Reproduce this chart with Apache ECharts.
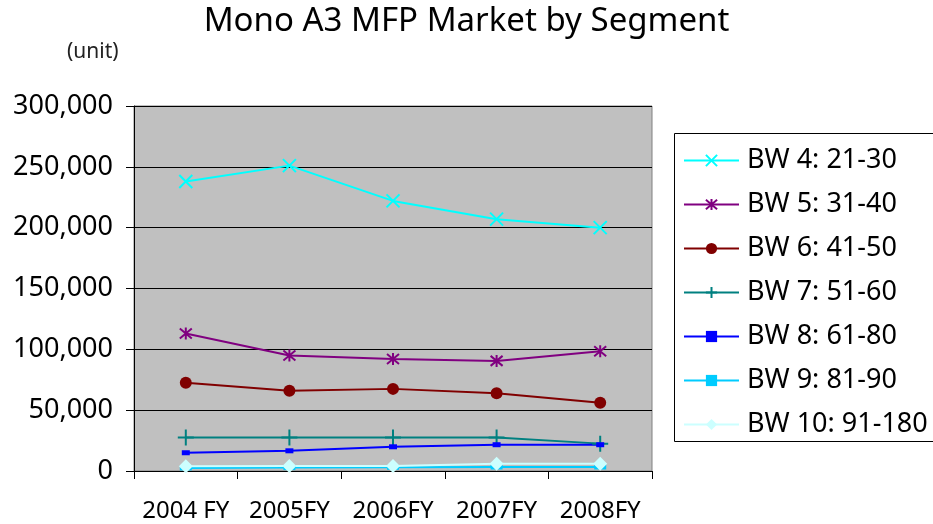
<html>
<head>
	<meta charset="utf-8">
	<title>Mono A3 MFP Market by Segment</title>
	<script src="https://cdn.jsdelivr.net/npm/echarts@6/dist/echarts.min.js"></script>
	<style type="text/css">
		html, body { margin: 0; padding: 0; background: #fff; }
	</style>
</head>
	<body>
		<div id="eCharts-container" style="width:933px;height:524px"></div>
	<script type="text/javascript">
		var categories = ['2004 FY', '2005FY', '2006FY', '2007FY', '2008FY'];
		var seriesNames = ['BW 4: 21-30', 'BW 5: 31-40', 'BW 6: 41-50', 'BW 7: 51-60', 'BW 8: 61-80', 'BW 9: 81-90', 'BW 10: 91-180'];
		var bw4 = [238000, 251000, 222000, 207000, 200000];
		var bw5 = [113000, 95000, 92000, 90500, 98500];
		var bw6 = [72500, 66000, 67500, 64000, 56000];
		var bw7 = [27500, 27500, 27500, 27500, 22500];
		var bw8 = [15000, 16600, 19900, 21600, 21600];
		var bw9 = [2500, 2800, 3000, 3300, 3300];
		var bw10 = [4000, 4200, 4200, 6000, 6000];
		var yTicks = [0, 50000, 100000, 150000, 200000, 250000, 300000];

		var font = '"Noto Sans", "Open Sans", sans-serif';
		var myChart = echarts.init(document.getElementById('eCharts-container'));

		function line(name, data, color, symbol, size, stroke) {
			var s = {
				name: name, type: 'line', data: data, symbol: symbol, symbolSize: size,
				showAllSymbol: true, animation: false,
				lineStyle: { color: color, width: 2 },
				itemStyle: { color: color }
			};
			if (stroke) {
				s.itemStyle = { color: 'rgba(0,0,0,0)', borderColor: color, borderWidth: 2 };
			}
			return s;
		}

		var option = {
			animation: false,
			title: {
				text: 'Mono A3 MFP Market by Segment',
				left: 'center', top: 0,
				textStyle: { fontFamily: font, fontSize: 33, fontWeight: 'normal', color: '#000' }
			},
			graphic: [
				{ type: 'text', left: 67, top: 42, style: { text: '(unit)', font: '21px ' + font, fill: '#222' } },
				{ type: 'rect', left: 674, top: 133, shape: { width: 270, height: 308 },
				  style: { fill: '#fff', stroke: '#000', lineWidth: 1 }, z: -1 }
			],
			legend: {
				orient: 'vertical', left: 678, top: 142,
				itemWidth: 55, itemHeight: 14, itemGap: 17,
				data: seriesNames,
				textStyle: { fontFamily: font, fontSize: 27, color: '#000', lineHeight: 24, padding: [0, 0, 0, 3] }
			},
			grid: { left: 134, top: 106, right: 281, bottom: 53, show: true, backgroundColor: '#c0c0c0', borderColor: '#808080', borderWidth: 1 },
			xAxis: {
				type: 'category', data: categories, boundaryGap: true,
				axisLine: { lineStyle: { color: '#000', width: 1 } },
				axisTick: { show: true, length: 8, lineStyle: { color: '#000' } },
				axisLabel: { interval: 0, margin: 28, fontFamily: font, fontSize: 24, color: '#000' }
			},
			yAxis: {
				type: 'value', min: yTicks[0], max: yTicks[yTicks.length - 1], interval: 50000,
				axisLine: { show: true, lineStyle: { color: '#000' } },
				axisTick: { show: true, length: 8, lineStyle: { color: '#000' } },
				splitLine: { lineStyle: { color: '#000', width: 1 } },
				axisLabel: { margin: 21, fontFamily: font, fontSize: 27, color: '#000',
					formatter: function (v) { return v.toLocaleString('en-US'); } }
			},
			series: [
				line(seriesNames[0], bw4, '#00ffff', 'path://M0,0L10,10M10,0L0,10', 13, true),
				line(seriesNames[1], bw5, '#800080', 'path://M0,0L10,10M10,0L0,10M5,-1L5,11', 12, true),
				line(seriesNames[2], bw6, '#800000', 'circle', 12),
				line(seriesNames[3], bw7, '#008080', 'path://M0,5L10,5M5,0L5,10', 16, true),
				line(seriesNames[4], bw8, '#0000ff', 'rect', [8, 5]),
				line(seriesNames[5], bw9, '#00ccff', 'rect', [12, 5]),
				line(seriesNames[6], bw10, '#ccffff', 'diamond', 14)
			]
		};
		myChart.setOption(option);
	</script>
	</body>
</html>
